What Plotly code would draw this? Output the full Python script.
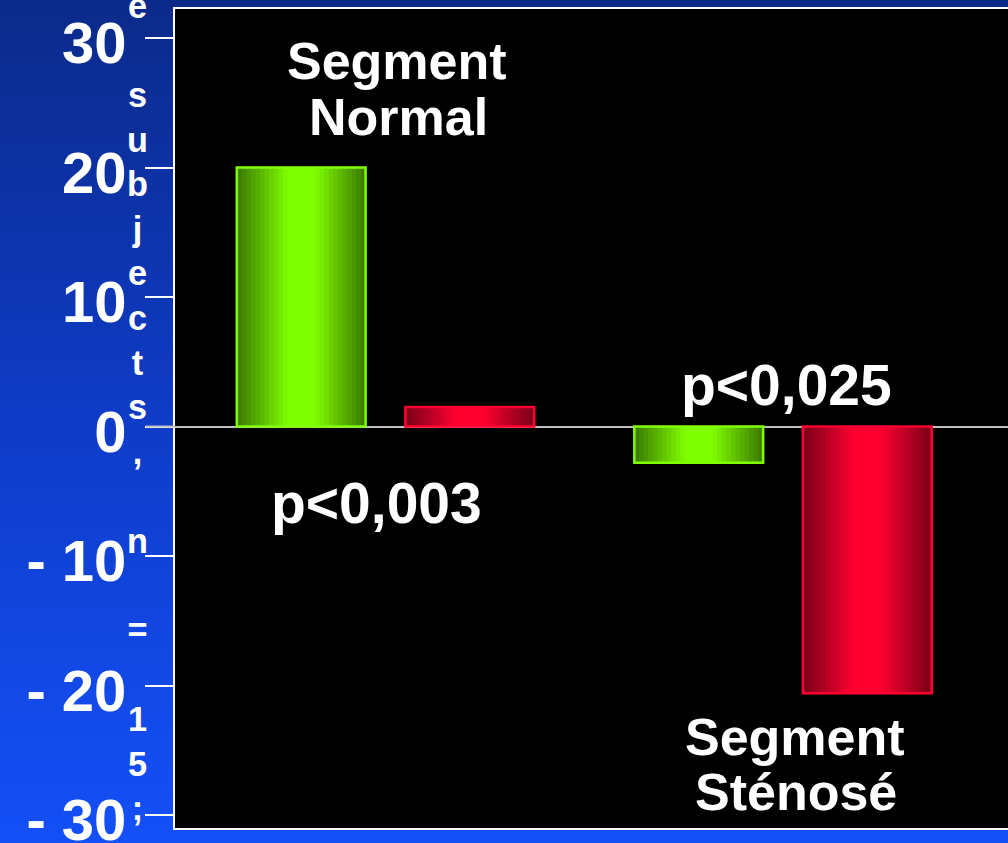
import base64
import plotly.graph_objects as go

# ---------------- data ----------------
groups = ["Segment Normal", "Segment Sténosé"]
green_values = [20.0, -2.8]
red_values = [1.5, -20.6]
tick_vals = [30, 20, 10, 0, -10, -20, -30]
tick_text = ["30", "20", "10", "0", "- 10", "- 20", "- 30"]
axis_title_chars = list("e subjects, n = 15;")

# ---------------- layout constants ----------------
W, H = 1008, 843
ML, MT, MB, MR = 175, 9, 15, 0
PW, PH = W - ML - MR, H - MT - MB
FONT = "Arial, Liberation Sans, sans-serif"

BAR_W = 0.324
OFFS = {"green": -0.212, "red": 0.212}
COLS = {
    "green": ((0x3a, 0x78, 0x00), (0x80, 0xff, 0x00), "#80ff00"),
    "red": ((0x78, 0x00, 0x18), (0xff, 0x00, 0x30), "#ff0030"),
}


def px(xp):
    return (xp - ML) / PW


def py(yp):
    return (H - MB - yp) / PH


def mix(c1, c2, t):
    return "rgb(%d,%d,%d)" % tuple(round(a + (b - a) * t) for a, b in zip(c1, c2))


xs = list(range(len(groups)))
fig = go.Figure()

N = 14
for name, vals in (("green", green_values), ("red", red_values)):
    dark, bright, edge = COLS[name]
    for k in range(N):
        f = 1 - k / N
        d = f - 0.5 / N
        t = 1.0 if d < 0.2 else max(0.0, 1 - (d - 0.2) / 0.8)
        w = BAR_W * f
        fig.add_trace(go.Bar(
            x=xs, y=vals, width=w, offset=OFFS[name] - w / 2,
            marker=dict(color=mix(dark, bright, t), line=dict(width=0)),
            showlegend=False, hoverinfo="skip"))
    fig.add_trace(go.Bar(
        x=xs, y=vals, width=BAR_W, offset=OFFS[name] - BAR_W / 2,
        marker=dict(color="rgba(0,0,0,0)", line=dict(width=2.5, color=edge)),
        showlegend=False, hoverinfo="skip"))

svg = ('<svg xmlns="http://www.w3.org/2000/svg" width="%d" height="%d">'
       '<defs><linearGradient id="g" x1="0" y1="0" x2="0" y2="1">'
       '<stop offset="0" stop-color="#0b2a8a"/>'
       '<stop offset="0.5" stop-color="#0f3cc8"/>'
       '<stop offset="1" stop-color="#1450f8"/>'
       '</linearGradient></defs>'
       '<rect width="%d" height="%d" fill="url(#g)"/></svg>') % (W, H, W, H)
src = "data:image/svg+xml;base64," + base64.b64encode(svg.encode()).decode()

ann = []


def txt(t, x, y, size):
    ann.append(dict(text=t, x=px(x), y=py(y), xref="paper", yref="paper",
                    xanchor="center", yanchor="middle", showarrow=False,
                    font=dict(family=FONT, size=size, color="white", weight="bold")))


txt("Segment", 397, 61, 52)
txt("Normal", 398, 117, 52)
txt("p<0,003", 376, 503, 57)
txt("p<0,025", 786, 385, 57)
txt("Segment", 795, 737, 52)
txt("Sténosé", 796, 792, 52)
txt("<br>".join(c if c != " " else "\u00a0" for c in axis_title_chars), 137, 407, 34.28)

fig.update_layout(
    width=W, height=H,
    margin=dict(l=ML, r=MR, t=MT, b=MB, pad=0, autoexpand=False),
    paper_bgcolor="#0f3cc8", plot_bgcolor="black",
    barmode="overlay",
    images=[dict(source=src, xref="paper", yref="paper", x=px(0), y=py(0),
                 sizex=W / PW, sizey=H / PH, xanchor="left", yanchor="top",
                 sizing="stretch", layer="below")],
    shapes=[dict(type="rect", xref="paper", yref="paper", x0=0, x1=1, y0=0, y1=1,
                 fillcolor="black", line=dict(width=0), layer="below"),
            dict(type="line", xref="paper", yref="y", x0=px(146), x1=0, y0=0, y1=0,
                 line=dict(color="#c0c0c0", width=2), layer="above")],
    annotations=ann,
    xaxis=dict(range=[-0.5295, 1.566], showgrid=False, zeroline=False,
               showticklabels=False, ticks="", showline=True, mirror=True,
               linecolor="white", linewidth=2, automargin=False),
    yaxis=dict(range=[-31.0, 32.24], tickvals=tick_vals, ticktext=tick_text,
               showgrid=False, zeroline=True, zerolinecolor="#c0c0c0", zerolinewidth=2,
               showline=True, linecolor="white", linewidth=2, automargin=False,
               ticks="outside", ticklen=28, tickwidth=2, tickcolor="white",
               ticklabelstandoff=7, ticklabeloverflow="allow", ticklabelshift=5,
               tickfont=dict(family=FONT, size=58, color="white", weight="bold")),
)

fig.write_html("out.html")
